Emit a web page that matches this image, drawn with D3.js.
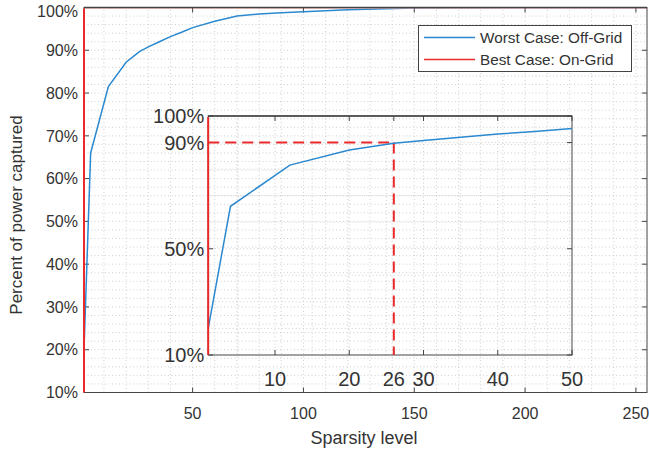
<!DOCTYPE html>
<html><head><meta charset="utf-8">
<script src="https://cdn.jsdelivr.net/npm/d3@7"></script>
<style>body{margin:0;background:#fff}svg{display:block}text{font-family:"Liberation Sans",Arial,sans-serif;fill:#333}</style>
</head><body><svg id="c" width="649" height="455"></svg>
<script>
// ---- data ----
const sparsity   = [1, 4, 12, 20, 26, 30, 35, 40, 45, 50, 60, 70, 80, 90, 100, 120, 150, 200, 255];
const worstCase  = [20, 66, 81.5, 87.2, 89.7, 90.8, 92.0, 93.2, 94.2, 95.3, 96.8, 98.0, 98.5, 98.8, 99.0, 99.5, 99.9, 100, 100];
const bestX      = [1, 1, 255];
const bestY      = [0, 100, 100];
const seriesNames = ["Worst Case: Off-Grid", "Best Case: On-Grid"];
const mainXTicks = [50, 100, 150, 200, 250];
const mainYTicks = [10, 20, 30, 40, 50, 60, 70, 80, 90, 100];
const insetXTicks = [10, 20, 26, 30, 40, 50];
const insetYTicks = [10, 50, 90, 100];
const markLevel = [26];
const markPct = [90];

const BLUE = "#2a89d0", RED = "#ea2a2a", AX = "#444", GRID = "#c4c4c4";
const svg = d3.select("#c");
const defs = svg.append("defs");

function panel(g, x, y, opt) {
  const [x0, x1] = x.range(), [y0, y1] = y.range();
  const id = opt.id;
  defs.append("clipPath").attr("id", id).append("rect")
    .attr("x", x0 - 2).attr("y", y1 + 1).attr("width", x1 - x0 + 2).attr("height", y0 - y1 - 1);
  // grid
  const grid = g.append("g").attr("stroke", GRID).attr("stroke-width", 0.8).attr("stroke-dasharray", "1,2.5");
  opt.gx.forEach(v => grid.append("line").attr("x1", x(v)).attr("x2", x(v)).attr("y1", y0).attr("y2", y1));
  opt.gy.forEach(v => grid.append("line").attr("y1", y(v)).attr("y2", y(v)).attr("x1", x0).attr("x2", x1));
  // box
  g.append("rect").attr("x", x0).attr("y", y1).attr("width", x1 - x0).attr("height", y0 - y1)
    .attr("fill", "none").attr("stroke", AX).attr("stroke-width", 1);
  // ticks inward
  const t = g.append("g").attr("stroke", AX).attr("stroke-width", 1);
  opt.xt.forEach(v => {
    t.append("line").attr("x1", x(v)).attr("x2", x(v)).attr("y1", y0).attr("y2", y0 - opt.tl);
    t.append("line").attr("x1", x(v)).attr("x2", x(v)).attr("y1", y1).attr("y2", y1 + opt.tl);
  });
  opt.yt.forEach(v => {
    t.append("line").attr("y1", y(v)).attr("y2", y(v)).attr("x1", x0).attr("x2", x0 + opt.tl);
    t.append("line").attr("y1", y(v)).attr("y2", y(v)).attr("x1", x1).attr("x2", x1 - opt.tl);
  });
  // tick labels
  opt.xt.forEach(v => g.append("text").attr("x", x(v)).attr("y", y0 + opt.xlo)
    .attr("text-anchor", "middle").attr("font-size", opt.fs).text(v));
  opt.yt.forEach(v => g.append("text").attr("x", x0 - opt.ylo)
    .attr("y", y(v) + (y(v) - opt.topPad < 6 ? opt.topPad : 0)).attr("dy", "0.36em")
    .attr("text-anchor", "end").attr("font-size", opt.fs).text(v + "%"));
  const c = g.append("g").attr("clip-path", `url(#${id})`);
  const line = d3.line().x(d => x(d[0])).y(d => y(d[1]));
  if (opt.extra) opt.extra(c);
  c.append("path").datum(sparsity.map((s, i) => [s, worstCase[i]]))
    .attr("d", line).attr("fill", "none").attr("stroke", BLUE).attr("stroke-width", 1.5);
  c.append("path").datum(bestX.map((s, i) => [s, bestY[i]]))
    .attr("d", line).attr("fill", "none").attr("stroke", RED).attr("stroke-width", 2);
  g.append("line").attr("x1", x0).attr("x2", x1).attr("y1", y1).attr("y2", y1).attr("stroke", AX).attr("stroke-width", 1.5);
}

// main
const x = d3.scaleLinear([1, 255], [84, 647]);
const y = d3.scaleLinear([10, 100], [392.5, 7.5]);
const gMain = svg.append("g");
panel(gMain, x, y, {
  id: "cm", gx: d3.range(10, 256, 10), gy: d3.range(10, 101, 2),
  xt: mainXTicks, yt: mainYTicks, tl: 5, fs: 16, xlo: 26, ylo: 6, topPad: 3.5
});
gMain.append("text").attr("x", 364).attr("y", 444).attr("text-anchor", "middle").attr("font-size", 18).text("Sparsity level");
gMain.append("text").attr("transform", "translate(22,215) rotate(-90)").attr("text-anchor", "middle").attr("font-size", 17).text("Percent of power captured");

// inset
const xi = d3.scaleLinear([1, 50], [208.2, 572]);
const yi = d3.scaleLinear([10, 100], [355, 116]);
const gIn = svg.append("g");
panel(gIn, xi, yi, {
  id: "ci", gx: d3.range(5, 50, 5), gy: d3.range(20, 100, 10),
  xt: insetXTicks, yt: insetYTicks, tl: 5, fs: 20, xlo: 31, ylo: 4, topPad: 0,
  extra: c => {
    const dash = c.append("g").attr("stroke", RED).attr("stroke-width", 2).attr("stroke-dasharray", "11,6").attr("fill", "none");
    dash.append("line").attr("x1", xi(1)).attr("x2", xi(markLevel[0])).attr("y1", yi(markPct[0])).attr("y2", yi(markPct[0]));
    dash.append("line").attr("x1", xi(markLevel[0])).attr("x2", xi(markLevel[0])).attr("y1", yi(markPct[0])).attr("y2", yi(10));
  }
});

// legend
const lg = svg.append("g");
lg.append("rect").attr("x", 418.5).attr("y", 25.5).attr("width", 213).attr("height", 46)
  .attr("fill", "#fff").attr("stroke", AX).attr("stroke-width", 1);
[BLUE, RED].forEach((col, i) => {
  const yy = 37.5 + i * 22;
  lg.append("line").attr("x1", 424).attr("x2", 475).attr("y1", yy).attr("y2", yy).attr("stroke", col).attr("stroke-width", 1.5);
  lg.append("text").attr("x", 480).attr("y", yy).attr("dy", "0.36em").attr("font-size", 15.3).text(seriesNames[i]);
});
</script></body></html>
